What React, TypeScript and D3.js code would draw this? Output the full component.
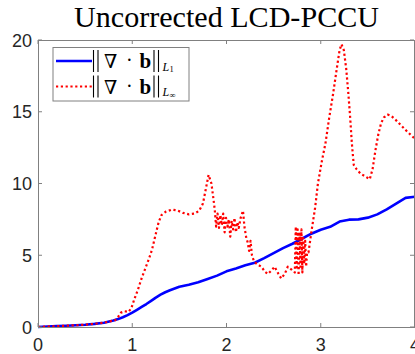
import React from "react";
import * as d3 from "d3";

const blueX = [0, 0.1, 0.2, 0.3, 0.4, 0.5, 0.6, 0.7, 0.8, 0.85, 0.9, 0.95, 1.0, 1.05, 1.1, 1.15, 1.2, 1.25, 1.3, 1.35, 1.4, 1.5, 1.6, 1.7, 1.8, 1.9, 2.0, 2.1, 2.2, 2.3, 2.4, 2.5, 2.6, 2.7, 2.8, 2.9, 3.0, 3.1, 3.2, 3.3, 3.4, 3.5, 3.6, 3.7, 3.8, 3.9, 4.0];
const blueY = [0, 0.03, 0.06, 0.09, 0.12, 0.16, 0.22, 0.3, 0.45, 0.55, 0.68, 0.83, 1.0, 1.2, 1.4, 1.6, 1.82, 2.05, 2.25, 2.42, 2.56, 2.8, 2.95, 3.12, 3.35, 3.58, 3.88, 4.08, 4.3, 4.48, 4.8, 5.15, 5.5, 5.8, 6.15, 6.5, 6.78, 6.98, 7.35, 7.48, 7.5, 7.62, 7.85, 8.2, 8.6, 9.0, 9.08];

const redX = [0, 0.1, 0.2, 0.3, 0.4, 0.5, 0.6, 0.7, 0.8, 0.82, 0.85, 0.88, 0.92, 0.96, 0.99, 1.02, 1.06, 1.1, 1.14, 1.18, 1.21, 1.25, 1.28, 1.31, 1.36, 1.42, 1.48, 1.54, 1.6, 1.66, 1.71, 1.75, 1.78, 1.81, 1.84, 1.86, 1.875,
  1.89, 1.905, 1.92, 1.935, 1.95, 1.965, 1.98, 1.995, 2.01, 2.025, 2.04, 2.055, 2.07, 2.085, 2.1, 2.115, 2.13, 2.15, 2.175, 2.19, 2.21, 2.225, 2.24, 2.255, 2.27, 2.29, 2.32, 2.37, 2.41, 2.44, 2.48, 2.51, 2.55, 2.58, 2.62, 2.65, 2.69, 2.725,
  2.735, 2.745, 2.755, 2.765, 2.775, 2.785, 2.795, 2.805, 2.815, 2.825, 2.835, 2.845, 2.855, 2.87, 2.9, 2.94, 2.97, 3.01, 3.05, 3.09, 3.13, 3.17, 3.2, 3.22, 3.245, 3.27, 3.29, 3.31, 3.33, 3.35, 3.38, 3.42, 3.47, 3.52, 3.55, 3.58, 3.61, 3.64, 3.67, 3.71, 3.75, 3.8, 3.86, 3.92, 3.97, 4.0];
const redY = [0, 0.03, 0.06, 0.09, 0.12, 0.16, 0.22, 0.3, 0.45, 0.48, 0.7, 1.0, 1.1, 1.05, 1.3, 1.9, 2.6, 3.4, 4.1, 4.8, 5.4, 6.5, 7.3, 7.8, 8.05, 8.18, 8.12, 7.95, 7.85, 7.9, 8.1, 8.6, 9.6, 10.6, 10.0, 9.0, 8.2,
  7.0, 7.9, 6.9, 7.8, 7.1, 7.9, 6.6, 7.6, 7.0, 7.5, 6.3, 7.4, 6.8, 7.6, 6.6, 7.3, 6.9, 7.6, 8.1, 7.0, 6.2, 5.9, 5.3, 6.0, 5.0, 4.6, 4.4, 4.2, 3.84, 3.7, 3.96, 4.2, 3.72, 3.38, 3.72, 4.2, 4.0, 3.8,
  7.0, 4.0, 6.8, 3.6, 6.5, 4.2, 6.8, 3.8, 6.2, 4.4, 6.0, 4.2, 5.2, 5.2, 6.6, 8.3, 10.0, 11.5, 12.8, 14.6, 16.2, 18.0, 19.3, 19.7, 19.3, 18.0, 16.5, 14.8, 12.8, 11.3, 11.0, 10.7, 10.5, 10.3, 11.0, 12.3, 13.4, 14.2, 14.6, 14.8, 14.7, 14.4, 14.0, 13.6, 13.3, 13.1];

const xTicks = [0, 1, 2, 3, 4];
const yTicks = [0, 5, 10, 15, 20];
const titleText = "Uncorrected LCD-PCCU";
const legendSubs = ["1", "∞"];

function LegendLabel({ cy, sub }: { cy: number; sub: string }) {
  const ff = "Liberation Serif, DejaVu Serif";
  const base = cy + 7;
  const bars = [93.5, 98, 154, 158.5];
  return (
    <g fontFamily={ff} fill="#000">
      {bars.map(bx => (
        <line key={bx} x1={bx} x2={bx} y1={cy - 11} y2={cy + 11} stroke="#000" strokeWidth={1.1} />
      ))}
      <text x={104} y={base} fontSize={19} fontFamily="DejaVu Serif">∇</text>
      <text x={126} y={base - 1} fontSize={20}>·</text>
      <text x={139.5} y={base} fontSize={21} fontWeight="bold">b</text>
      <text x={162.5} y={base + 2.5} fontSize={12} fontStyle="italic">L</text>
      <text x={169.5} y={base + 4} fontSize={8.5}>{sub}</text>
    </g>
  );
}

export default function App() {
  const W = 415, H = 354;
  const L = 38, R = 415, T = 40, B = 327;
  const x = d3.scaleLinear().domain([0, 4]).range([L, R]);
  const y = d3.scaleLinear().domain([0, 20]).range([B, T]);
  const line = d3.line<[number, number]>().x(d => x(d[0])).y(d => y(d[1]));
  const blue = line(blueX.map((v, i) => [v, blueY[i]]) as [number, number][]) || "";
  const red = line(redX.map((v, i) => [v, redY[i]]) as [number, number][]) || "";
  const axisColor = "#808080";
  const textColor = "#262626";
  const tl = 4;
  return (
    <svg width={W} height={H} style={{ position: "absolute", left: 0, top: 0 }}>
      <rect x={0} y={0} width={W} height={H} fill="#fff" />
      <defs>
        <clipPath id="plot"><rect x={L} y={T - 2} width={R - L} height={B - T + 4} /></clipPath>
      </defs>
      <text x={(L + R) / 2} y={27} textAnchor="middle" fontFamily="Liberation Serif" fontSize={30} fill="#000" textLength={305} lengthAdjust="spacingAndGlyphs">{titleText}</text>
      <g clipPath="url(#plot)">
        <path d={blue} fill="none" stroke="#0000ff" strokeWidth={2.6} strokeLinejoin="round" />
        <path d={red} fill="none" stroke="#ff0000" strokeWidth={2.2} strokeDasharray="2.2,2.6" strokeLinejoin="round" />
      </g>
      <rect x={L + 0.5} y={T + 0.5} width={R - L - 1} height={B - T} fill="none" stroke={axisColor} strokeWidth={1} />
      {xTicks.map(t => (
        <g key={"x" + t}>
          <line x1={x(t)} x2={x(t)} y1={B} y2={B - tl} stroke={axisColor} />
          <line x1={x(t)} x2={x(t)} y1={T} y2={T + tl} stroke={axisColor} />
          <text x={x(t)} y={351} textAnchor="middle" fontFamily="Liberation Sans, Arial" fontSize={18} fill={textColor}>{t}</text>
        </g>
      ))}
      {yTicks.map(t => (
        <g key={"y" + t}>
          <line x1={L} x2={L + tl} y1={y(t)} y2={y(t)} stroke={axisColor} />
          <line x1={R - 1} x2={R - 1 - tl} y1={y(t)} y2={y(t)} stroke={axisColor} />
          <text x={32} y={y(t) + 6.5} textAnchor="end" fontFamily="Liberation Sans, Arial" fontSize={18} fill={textColor}>{t}</text>
        </g>
      ))}
      <g>
        <rect x={53} y={47.5} width={136} height={53.5} fill="#fff" stroke={axisColor} strokeWidth={1} />
        <line x1={56} x2={92} y1={61} y2={61} stroke="#0000ff" strokeWidth={2.6} />
        <line x1={56} x2={92} y1={86.5} y2={86.5} stroke="#ff0000" strokeWidth={2.2} strokeDasharray="2.2,2.6" />
        <LegendLabel cy={61} sub={legendSubs[0]} />
        <LegendLabel cy={86.5} sub={legendSubs[1]} />
      </g>
    </svg>
  );
}
